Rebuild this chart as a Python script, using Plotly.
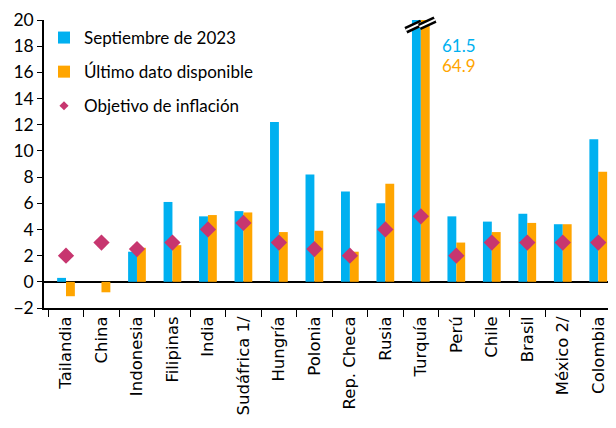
import plotly.graph_objects as go

paises = ["Tailandia", "China", "Indonesia", "Filipinas", "India", "Sudáfrica 1/",
          "Hungría", "Polonia", "Rep. Checa", "Rusia", "Turquía", "Perú", "Chile",
          "Brasil", "México 2/", "Colombia"]
septiembre_2023 = [0.3, 0.0, 2.3, 6.1, 5.0, 5.4, 12.2, 8.2, 6.9, 6.0, 61.5, 5.0, 4.6, 5.2, 4.4, 10.9]
ultimo_dato = [-1.1, -0.8, 2.6, 2.8, 5.1, 5.3, 3.8, 3.9, 2.3, 7.5, 64.9, 3.0, 3.8, 4.5, 4.4, 8.4]
objetivo = [2.0, 3.0, 2.5, 3.0, 4.0, 4.5, 3.0, 2.5, 2.0, 4.0, 5.0, 2.0, 3.0, 3.0, 3.0, 3.0]
y_ticks = list(range(-2, 21, 2))

Y_MAX = 20
Y_MIN = -2
BLUE = "#00B0F0"
ORANGE = "#FFA500"
PINK = "#C7366F"
FONT = "Lato"

sept_plot = [min(v, Y_MAX) for v in septiembre_2023]
ult_plot = [min(v, Y_MAX) for v in ultimo_dato]

fig = go.Figure()
fig.add_trace(go.Bar(x=paises, y=sept_plot, name="Septiembre de 2023",
                     marker=dict(color=BLUE, line=dict(width=0)), legendgroup="a"))
fig.add_trace(go.Bar(x=paises, y=ult_plot, name="Último dato disponible",
                     marker=dict(color=ORANGE, line=dict(width=0)), legendgroup="b"))
fig.add_trace(go.Scatter(x=paises, y=objetivo, mode="markers", name="Objetivo de inflación",
                         marker=dict(symbol="diamond", size=12.5, color=PINK),
                         showlegend=False, legendgroup="c"))
fig.add_trace(go.Scatter(x=[None], y=[None], mode="markers", name="Objetivo de inflación",
                         marker=dict(symbol="diamond", size=7, color=PINK), legendgroup="c"))

n = len(paises)
x_lo, x_hi = -0.62, n - 0.5
ywidth = Y_MAX - Y_MIN

def px(xv):
    return (xv - x_lo) / (x_hi - x_lo)

def py(yv):
    return (yv - Y_MIN) / ywidth

# break marks on capped bars
shapes = []
annotations = []
for i, (s, u) in enumerate(zip(septiembre_2023, ultimo_dato)):
    if s > Y_MAX or u > Y_MAX:
        for off, yc in ((-0.2, 19.5), (0.18, 19.75)):
            xc = i + off
            for w, col in ((7, "black"), (2, "white")):
                shapes.append(dict(type="line", xref="paper", yref="paper",
                                   x0=px(xc - 0.22), y0=py(yc - 0.28),
                                   x1=px(xc + 0.22), y1=py(yc + 0.28),
                                   line=dict(color=col, width=w)))
        annotations.append(dict(xref="paper", yref="paper", x=px(i + 0.55), y=py(19.0),
                                text=f"{s}", showarrow=False, xanchor="left",
                                font=dict(family=FONT, size=17, color=BLUE)))
        annotations.append(dict(xref="paper", yref="paper", x=px(i + 0.55), y=py(17.5),
                                text=f"{u}", showarrow=False, xanchor="left",
                                font=dict(family=FONT, size=17, color=ORANGE)))

# the page body has an 8px default margin; size the figure to fit the 616x428 window
fig.update_layout(
    width=608, height=420,
    margin=dict(l=36, r=0, t=12, b=120, autoexpand=False),
    plot_bgcolor="white", paper_bgcolor="white",
    barmode="group", bargap=0.5, bargroupgap=0,
    font=dict(family=FONT, size=16, color="black"),
    showlegend=True,
    legend=dict(x=0.0, y=1.0, xanchor="left", yanchor="top",
                bgcolor="rgba(0,0,0,0)", font=dict(family=FONT, size=17),
                tracegroupgap=9, itemclick=False),
    shapes=shapes, annotations=annotations,
)
fig.update_xaxes(type="category", range=[x_lo, x_hi], tickangle=-90, automargin=False,
                 showline=True, linecolor="black", linewidth=1.5,
                 ticks="outside", tickson="boundaries", ticklen=7, tickcolor="black",
                 tickfont=dict(family="DejaVu Sans", size=16.5), showgrid=False)
fig.update_yaxes(range=[Y_MIN, Y_MAX], tickvals=y_ticks, showline=True, linecolor="black",
                 linewidth=1.5, ticks="outside", ticklen=5, tickcolor="black", automargin=False,
                 showgrid=False, zeroline=True, zerolinecolor="black", zerolinewidth=2,
                 tickfont=dict(family=FONT, size=17.5))

fig.write_html("out.html")
